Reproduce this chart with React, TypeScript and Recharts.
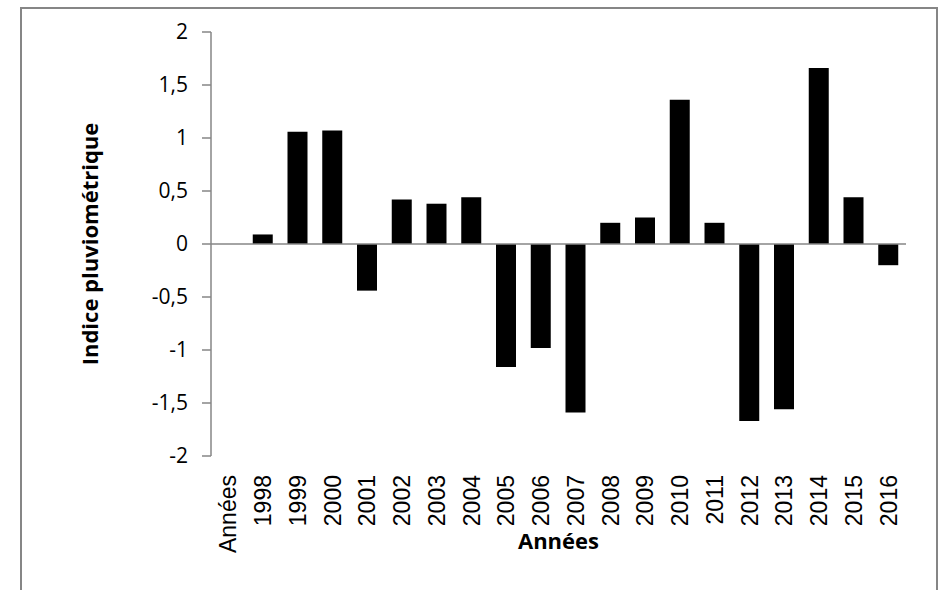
import React from 'react'
import { BarChart, Bar, XAxis, YAxis, ReferenceLine, Label } from 'recharts'

const categories = ['Années', '1998', '1999', '2000', '2001', '2002', '2003', '2004', '2005', '2006', '2007', '2008', '2009', '2010', '2011', '2012', '2013', '2014', '2015', '2016']
const indexValues: (number | null)[] = [null, 0.09, 1.06, 1.07, -0.44, 0.42, 0.38, 0.44, -1.16, -0.98, -1.59, 0.2, 0.25, 1.36, 0.2, -1.67, -1.56, 1.66, 0.44, -0.2]
const yTicks = [-2, -1.5, -1, -0.5, 0, 0.5, 1, 1.5, 2]

const chartData = categories.map((year, i) => ({ year, indice: indexValues[i] }))

const FONT = '"Open Sans", "Liberation Sans", sans-serif'
const TICK_FONT = '"Liberation Sans", Arial, sans-serif'
const AXIS_GREY = '#868686'

function YearTick(props: any) {
  const { x, payload } = props
  return (
    <g transform={`translate(${x},475) rotate(-90)`}>
      <text x={0} y={0} dy="0.35em" textAnchor="end" fill="#000" fontSize={23} fontFamily={TICK_FONT}>
        {payload.value}
      </text>
    </g>
  )
}

export default function App() {
  return (
    <div style={{ position: 'absolute', left: 0, top: 0, width: 942, height: 590, background: '#fff', overflow: 'hidden' }}>
      <div
        style={{
          position: 'absolute',
          left: 20,
          top: 7,
          width: 918,
          height: 620,
          border: `2px solid ${AXIS_GREY}`,
          boxSizing: 'border-box',
        }}
      />
      <div style={{ position: 'absolute', left: 0, top: 0 }}>
        <BarChart
          width={942}
          height={590}
          data={chartData}
          margin={{ top: 32, right: 36, bottom: 34, left: 0 }}
          barSize={20}
        >
          <XAxis
            dataKey="year"
            axisLine={false}
            tickLine={false}
            tickSize={0}
            interval={0}
            height={100}
            tick={<YearTick />}
          >
            <Label
              value="Années"
              position="insideBottom"
              offset={7}
              style={{ fontFamily: FONT, fontSize: 22, fontWeight: 700, fill: '#000' }}
            />
          </XAxis>
          <YAxis
            domain={[-2, 2]}
            ticks={yTicks}
            width={211}
            allowDataOverflow
            interval={0}
            axisLine={{ stroke: AXIS_GREY, strokeWidth: 1.5 }}
            tickLine={{ stroke: AXIS_GREY, strokeWidth: 1.5 }}
            tickSize={9}
            tickMargin={14}
            tick={{ fill: '#000', fontSize: 21, fontFamily: FONT }}
            tickFormatter={(v: number) => String(v).replace('.', ',')}
          >
            <Label
              value="Indice pluviométrique"
              angle={-90}
              position="center"
              dx={-15}
              style={{ fontFamily: FONT, fontSize: 22, fontWeight: 700, fill: '#000', textAnchor: 'middle' }}
            />
          </YAxis>
          <Bar dataKey="indice" fill="#000" isAnimationActive={false} />
          <ReferenceLine y={0} stroke={AXIS_GREY} strokeWidth={1.5} />
        </BarChart>
      </div>
    </div>
  )
}
